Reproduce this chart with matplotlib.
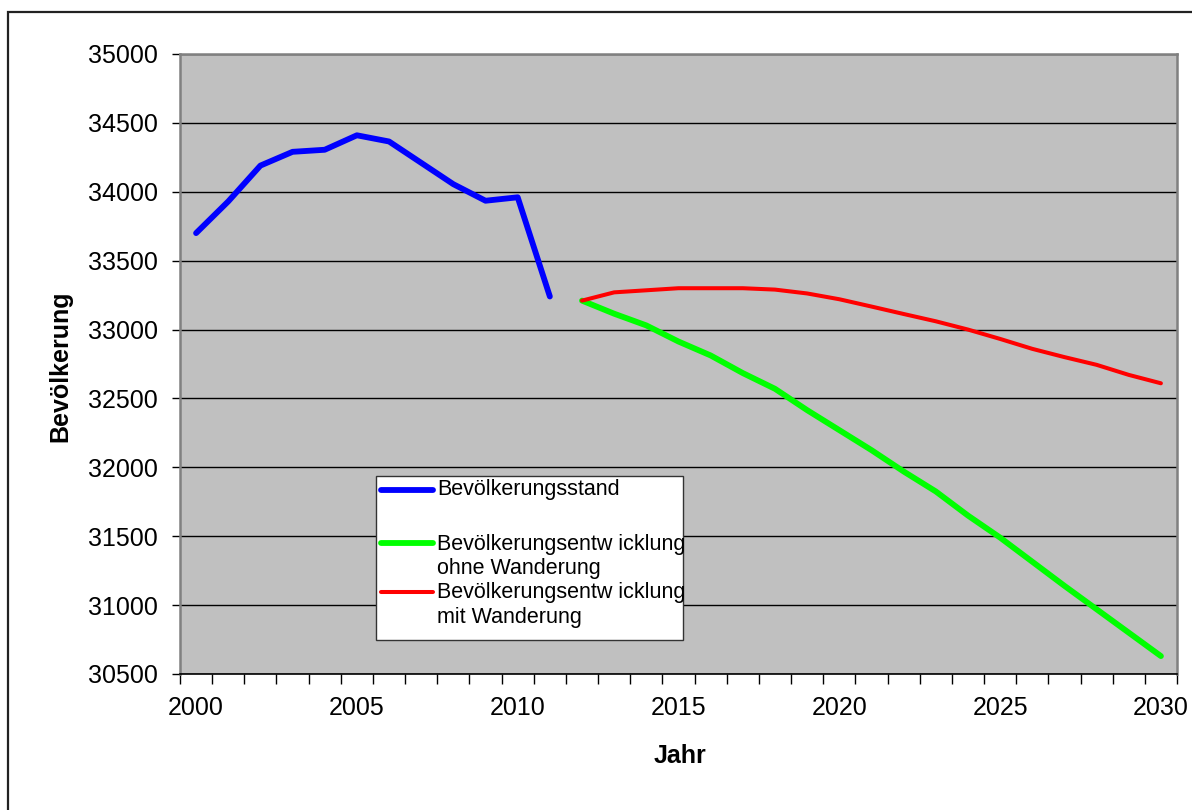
import matplotlib
matplotlib.use("Agg")
import matplotlib.pyplot as plt
from matplotlib.patches import Rectangle
from matplotlib.lines import Line2D

plt.rcParams['font.family'] = ['Liberation Sans', 'DejaVu Sans']

# Bevölkerungsstand (Ist-Werte)
years_hist = list(range(2000, 2012))
pop_hist = [33700, 33930, 34190, 34290, 34305, 34410, 34365, 34210,
            34055, 33935, 33960, 33240]

# Prognose
years_prog = list(range(2012, 2031))
pop_ohne = [33210, 33115, 33030, 32913, 32812, 32684, 32570, 32415, 32270,
            32125, 31970, 31825, 31650, 31490, 31315, 31140, 30970, 30800, 30630]
pop_mit = [33210, 33270, 33285, 33300, 33300, 33300, 33290, 33262, 33220,
           33167, 33113, 33060, 33000, 32932, 32860, 32800, 32744, 32671, 32610]

labels = ["Bevölkerungsstand",
          "Bevölkerungsentw icklung\nohne Wanderung",
          "Bevölkerungsentw icklung\nmit Wanderung"]
colors = ["#0000FF", "#00FF00", "#FF0000"]
widths = [4.2, 4.2, 2.9]

fig = plt.figure(figsize=(11.92, 8.10), dpi=100)
ax = fig.add_axes([180 / 1192, 136 / 810, 997 / 1192, 620 / 810])
ax.set_facecolor("#C0C0C0")

ax.plot(years_hist, pop_hist, color=colors[0], lw=widths[0], solid_capstyle='round', zorder=3)
ax.plot(years_prog, pop_ohne, color=colors[1], lw=widths[1], solid_capstyle='round', zorder=3)
ax.plot(years_prog, pop_mit, color=colors[2], lw=widths[2], solid_capstyle='round', zorder=3)

ax.set_xlim(1999.5, 2030.5)
ax.set_ylim(30500, 35000)
ax.set_yticks(range(30500, 35001, 500))
ax.set_xticks(range(2000, 2031, 5))
ax.set_xticks([y + 0.5 for y in range(1999, 2031)], minor=True)
ax.tick_params(axis='x', which='major', length=0, pad=16, labelsize=18)
ax.tick_params(axis='x', which='minor', length=7, width=1, color='black', direction='out')
ax.tick_params(axis='y', length=6, width=1, pad=10, labelsize=18, direction='out')

ax.grid(axis='y', color='black', lw=1)
ax.set_axisbelow(True)
for side in ['left', 'right', 'top']:
    ax.spines[side].set_color('#808080')
    ax.spines[side].set_linewidth(1.8)
ax.spines['bottom'].set_color('black')
ax.spines['bottom'].set_linewidth(1.2)

ax.set_xlabel("Jahr", fontsize=18, fontweight='bold')
ax.set_ylabel("Bevölkerung", fontsize=18, fontweight='bold')
ax.xaxis.set_label_coords(0.5015, -0.113)
ax.yaxis.set_label_coords(-0.108, 0.497)

# Legende (Excel-Stil, Symbol an der ersten Zeile)
ax.add_patch(Rectangle((0.1966, 0.0548), 0.3079, 0.2642, transform=ax.transAxes,
                       facecolor='white', edgecolor='#333333', lw=1, zorder=5))
rows = [0.2968, 0.2113, 0.1323]
text_y = [0.2968, 0.1895, 0.1113]
for r, ty, lab, col, w in zip(rows, text_y, labels, colors, widths):
    ax.add_line(Line2D([0.2020, 0.2535], [r, r], transform=ax.transAxes, color=col,
                       lw=w, solid_capstyle='round', zorder=6))
    ax.text(0.2578, ty, lab, transform=ax.transAxes, fontsize=15.5, va='center',
            ha='left', linespacing=1.22, zorder=6)

# äußerer Diagrammrahmen
fig.patches.append(Rectangle((8 / 1192, -0.02), 1.1, 1 - 12 / 810 + 0.02,
                             transform=fig.transFigure, fill=False,
                             edgecolor='#222222', lw=1.6))

fig.savefig("out.png", dpi=100)
